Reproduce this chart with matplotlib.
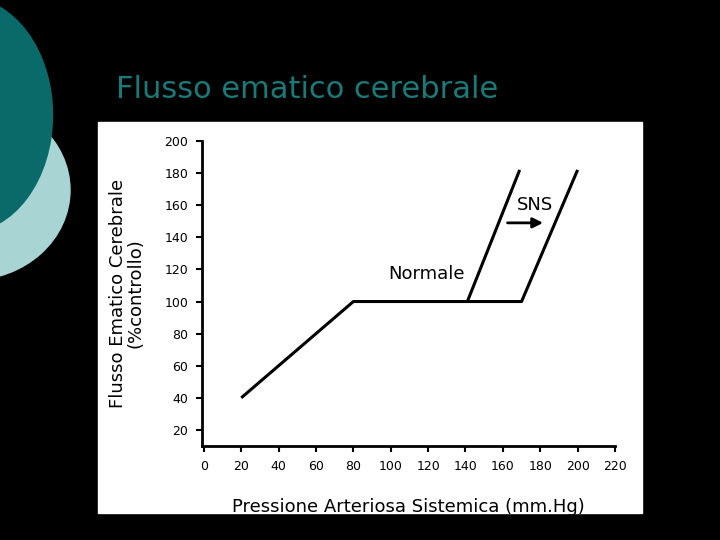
import matplotlib
matplotlib.use("Agg")
import matplotlib.pyplot as plt
from matplotlib.patches import Ellipse, Rectangle

x_main = [20, 80, 170, 200]
y_main = [40, 100, 100, 182]
x_norm = [141, 169]
y_norm = [100, 182]
xticks = list(range(0, 221, 20))
yticks = list(range(20, 201, 20))

W, H = 720, 540
fig = plt.figure(figsize=(7.2, 5.4), dpi=100, facecolor="black")
# decorative circles
fig.patches.append(Ellipse((-30/W, 1-190/H), 200/W, 180/H, transform=fig.transFigure, color="#a8d4d4", zorder=0))
fig.patches.append(Ellipse((-35/W, 1-115/H), 175/W, 235/H, transform=fig.transFigure, color="#0a6a6a", zorder=1))
fig.patches.append(Rectangle((98/W, 1-513/H), 544/W, 391/H, transform=fig.transFigure, color="white", zorder=2))
fig.text(116/W, 1-90/H, "Flusso ematico cerebrale", color="#1a7a7a", fontsize=22, va="center", ha="left")

ax = fig.add_axes([202/W, 1-446/H, 413/W, 305/H])
ax.set_facecolor("none")
ax.set_zorder(3)
ax.plot(x_main, y_main, color="black", lw=2.2, solid_capstyle="butt")
ax.plot(x_norm, y_norm, color="black", lw=2.2, solid_capstyle="butt")
ax.set_xlim(-1, 220)
ax.set_ylim(10, 200)
ax.set_xticks(xticks)
ax.set_yticks(yticks)
ax.tick_params(labelsize=9, width=1.5, length=4, pad=6)
for s in ["top", "right"]:
    ax.spines[s].set_visible(False)
for s in ["left", "bottom"]:
    ax.spines[s].set_linewidth(2)
ax.text(119, 117, "Normale", fontsize=13, ha="center", va="center")
ax.text(177, 160, "SNS", fontsize=13, ha="center", va="center")
ax.annotate("", xy=(183, 149), xytext=(161, 149),
            arrowprops=dict(arrowstyle="-|>", color="black", lw=2, mutation_scale=15))
ax.set_xlabel("Pressione Arteriosa Sistemica (mm.Hg)", fontsize=13, labelpad=18)
ax.set_ylabel("Flusso Ematico Cerebrale\n(%controllo)", fontsize=13, labelpad=14, linespacing=1.0)
fig.savefig("out.png", dpi=100, facecolor="black")
